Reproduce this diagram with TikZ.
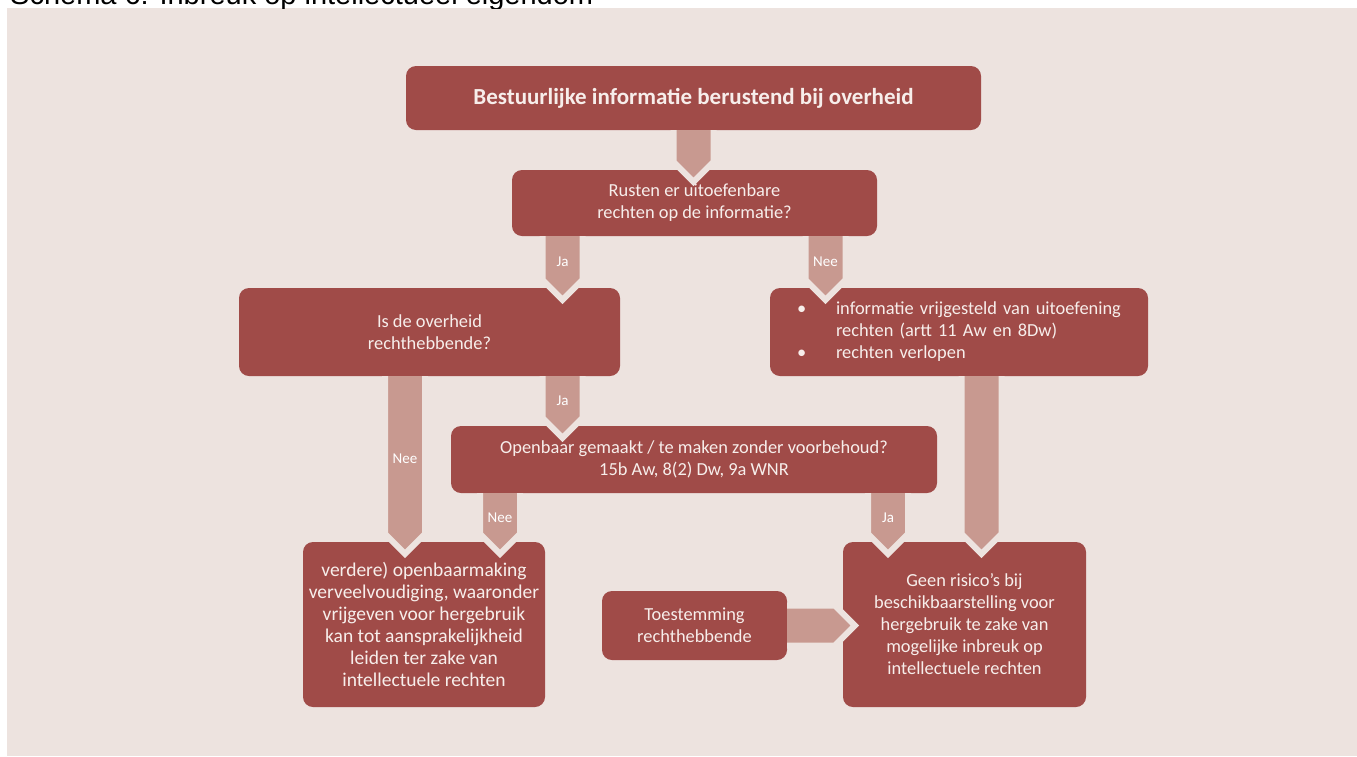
\documentclass[tikz,border=0pt]{standalone}
\usepackage{fontspec}
\setmainfont{Carlito}
\newfontfamily\captionfont{Liberation Sans}
\usetikzlibrary{calc}
\definecolor{PaleBg}{RGB}{237,227,223}
\definecolor{BoxRed}{RGB}{160,75,72}
\definecolor{ArrowRose}{RGB}{200,153,144}
\definecolor{BoxText}{RGB}{247,238,235}
\tikzset{
  flowbox/.style={fill=BoxRed, rounded corners=10pt, text=BoxText, align=center,
    inner sep=0pt, font=\fontsize{18.4}{22}\selectfont},
  flowlabel/.style={text=white, font=\fontsize{15}{17}\selectfont, inner sep=0pt},
  % broad arrow with a pointed end, edged in the page colour
  flow/.style={fill=ArrowRose, draw=PaleBg, line width=6pt, line join=miter,
    to path={let \p1=(\tikztostart), \p2=(\tikztotarget),
      \n1={atan2(\y2-\y1,\x2-\x1)} in
      ($(\p1)+({\n1+90}:20pt)$)
      -- ($(\p2)+(\n1:12pt)+({\n1+180}:20pt)+({\n1+90}:20pt)$)
      -- ($(\p2)+(\n1:12pt)$)
      -- ($(\p2)+(\n1:12pt)+({\n1+180}:20pt)+({\n1-90}:20pt)$)
      -- ($(\p1)+({\n1-90}:20pt)$)}}
}

\begin{document}
\begin{tikzpicture}[x=1pt, y=-1pt]
  \useasboundingbox (0,0) rectangle (1357,756);
  \fill[PaleBg] (7,8) rectangle (1357,756);
  \begin{scope}
    \clip (0,0) rectangle (1357,8);
    \node[anchor=base west, inner sep=0pt, font=\captionfont\fontsize{29}{32}\selectfont] (caption) at (10,4.5) {Schema 6: Inbreuk op intellectueel eigendom};
  \end{scope}

  % boxes
  \node[flowbox, minimum width=575pt, minimum height=64pt, font=\fontsize{23}{26}\selectfont\bfseries] (bron) at (693.5,98) {Bestuurlijke informatie berustend bij overheid};
  \node[flowbox, minimum width=365pt, minimum height=66pt] (rusten) at (694.5,203) {Rusten er uitoefenbare\\rechten op de informatie?};
  \node[flowbox, minimum width=381pt, minimum height=88pt] (eigenaar) at (429.5,332) {Is de overheid\\rechthebbende?};
  \node[flowbox, minimum width=378pt, minimum height=88pt, text width=324pt, align=left] (vrij) at (959,332) {%
    \begin{tabular}{@{}p{39pt}@{}l@{}}
      \textbullet & informatie vrijgesteld van uitoefening\\
                  & rechten (artt 11 Aw en 8Dw)\\
      \textbullet & rechten verlopen
    \end{tabular}};
  \node[flowbox, minimum width=486pt, minimum height=67pt] (openbaar) at (694,459.5) {Openbaar gemaakt / te maken zonder voorbehoud?\\15b Aw, 8(2) Dw, 9a WNR};
  \node[flowbox, minimum width=242pt, minimum height=165pt, font=\fontsize{19.5}{22}\selectfont] (risico) at (424,624.5) {verdere) openbaarmaking\\verveelvoudiging, waaronder\\vrijgeven voor hergebruik\\kan tot aansprakelijkheid\\leiden ter zake van\\intellectuele rechten};
  \node[flowbox, minimum width=243pt, minimum height=165pt] (geenrisico) at (964.5,624.5) {Geen risico’s bij\\beschikbaarstelling voor\\hergebruik te zake van\\mogelijke inbreuk op\\intellectuele rechten};
  \node[flowbox, minimum width=185pt, minimum height=69pt] (toestemming) at (694.5,625.5) {Toestemming\\rechthebbende};

  % lanes of the arrows
  \coordinate (laneJa) at (562.5,0);
  \coordinate (laneNee) at (825.5,0);
  \coordinate (laneLang) at (405,0);
  \coordinate (laneKort) at (500,0);
  \coordinate (laneRechts) at (888,0);
  \coordinate (laneVrij) at (981.5,0);

  % arrows
  \path[flow] (bron.south) to (bron.south |- rusten.north);
  \path[flow] (rusten.south -| laneJa) to (eigenaar.north -| laneJa);
  \path[flow] (rusten.south -| laneNee) to (vrij.north -| laneNee);
  \path[flow] (eigenaar.south -| laneJa) to (openbaar.north -| laneJa);
  \path[flow] (eigenaar.south -| laneLang) to (risico.north -| laneLang);
  \path[flow] (openbaar.south -| laneKort) to (risico.north -| laneKort);
  \path[flow] (openbaar.south -| laneRechts) to (geenrisico.north -| laneRechts);
  \path[flow] (vrij.south -| laneVrij) to (geenrisico.north -| laneVrij);
  \path[flow] (toestemming.east) to (toestemming.east -| geenrisico.west);

  % labels
  \path (rusten.south -| laneJa) -- node[flowlabel] (lblJa1) {Ja} (eigenaar.north -| laneJa);
  \path (rusten.south -| laneNee) -- node[flowlabel] (lblNee1) {Nee} (vrij.north -| laneNee);
  \path (eigenaar.south -| laneJa) -- node[flowlabel] (lblJa2) {Ja} (openbaar.north -| laneJa);
  \path (eigenaar.south -| laneLang) -- node[flowlabel] (lblNee2) {Nee} (risico.north -| laneLang);
  \path (openbaar.south -| laneKort) -- node[flowlabel] (lblNee3) {Nee} (risico.north -| laneKort);
  \path (openbaar.south -| laneRechts) -- node[flowlabel] (lblJa3) {Ja} (geenrisico.north -| laneRechts);
\end{tikzpicture}
\end{document}
